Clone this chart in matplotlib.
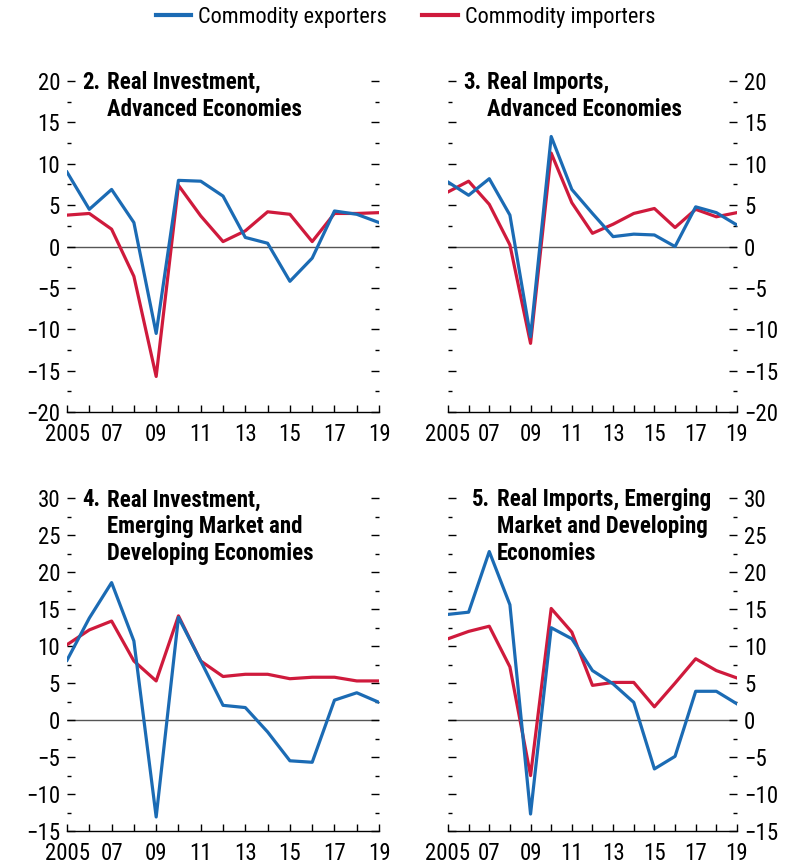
import matplotlib
matplotlib.use("Agg")
import matplotlib.pyplot as plt
from matplotlib.ticker import MultipleLocator, FixedLocator
from matplotlib.lines import Line2D
from matplotlib.transforms import offset_copy

plt.rcParams['font.family'] = ['Roboto Condensed', 'DejaVu Sans']

years = list(range(2005, 2020))
year_labels = ['2005', '07', '09', '11', '13', '15', '17', '19']

# panel 2: real investment, advanced economies
inv_ae_exp = [9.0, 4.5, 6.9, 2.9, -10.5, 8.0, 7.9, 6.1, 1.1, 0.4, -4.2, -1.4, 4.3, 3.9, 2.9]
inv_ae_imp = [3.8, 4.0, 2.1, -3.6, -15.7, 7.4, 3.7, 0.6, 1.9, 4.2, 3.9, 0.6, 4.0, 4.0, 4.1]
# panel 3: real imports, advanced economies
imp_ae_exp = [7.8, 6.2, 8.2, 3.8, -10.9, 13.3, 6.9, 4.0, 1.2, 1.5, 1.4, 0.0, 4.8, 4.1, 2.6]
imp_ae_imp = [6.6, 7.9, 5.1, 0.2, -11.7, 11.3, 5.3, 1.6, 2.7, 4.0, 4.6, 2.3, 4.5, 3.6, 4.1]
# panel 4: real investment, EMDEs
inv_em_exp = [8.1, 13.8, 18.6, 10.7, -13.1, 13.9, 8.0, 2.0, 1.7, -1.6, -5.5, -5.7, 2.7, 3.7, 2.4]
inv_em_imp = [10.2, 12.2, 13.4, 8.0, 5.3, 14.1, 8.0, 5.9, 6.2, 6.2, 5.6, 5.8, 5.8, 5.3, 5.3]
# panel 5: real imports, EMDEs
imp_em_exp = [14.3, 14.6, 22.8, 15.6, -12.7, 12.5, 11.0, 6.7, 4.9, 2.4, -6.6, -4.9, 3.9, 3.9, 2.2]
imp_em_imp = [11.0, 12.0, 12.7, 7.2, -7.5, 15.1, 11.9, 4.7, 5.1, 5.1, 1.8, 5.0, 8.3, 6.7, 5.7]

BLUE = '#1b6bb4'
RED = '#cf1a3c'

fig = plt.figure(figsize=(7.95, 8.68), dpi=100)

panels = [
    # rect, exporters, importers, ylim, number, title lines, labels on right, num x, body x
    ([0.0843, 0.5253, 0.3925, 0.3813], inv_ae_exp, inv_ae_imp, (-20, 20),
     '2.', ['Real Investment,', 'Advanced Economies'], False, 0.048, 0.128),
    ([0.5635, 0.5253, 0.3635, 0.3813], imp_ae_exp, imp_ae_imp, (-20, 20),
     '3.', ['Real Imports,', 'Advanced Economies'], True, 0.052, 0.135),
    ([0.0843, 0.0426, 0.3925, 0.3833], inv_em_exp, inv_em_imp, (-15, 30),
     '4.', ['Real Investment,', 'Emerging Market and', 'Developing Economies'], False, 0.048, 0.128),
    ([0.5635, 0.0426, 0.3635, 0.3833], imp_em_exp, imp_em_imp, (-15, 30),
     '5.', ['Real Imports, Emerging', 'Market and Developing', 'Economies'], True, 0.083, 0.170),
]

for rect, exp, imp, ylim, num, lines, right, xn, xb in panels:
    ax = fig.add_axes(rect)
    ax.axhline(0, color='#555555', lw=1.0, zorder=1)
    ax.plot(years, imp, color=RED, lw=2.3, zorder=2)
    ax.plot(years, exp, color=BLUE, lw=2.3, zorder=3)
    ax.set_xlim(2005, 2019)
    ax.set_ylim(*ylim)
    for s in ['top', 'left', 'right']:
        ax.spines[s].set_visible(False)
    ax.spines['bottom'].set_linewidth(1.0)

    ax.xaxis.set_major_locator(FixedLocator(years[::2]))
    ax.xaxis.set_minor_locator(FixedLocator(years[1::2]))
    ax.set_xticklabels(year_labels)
    ax.tick_params(axis='x', which='both', direction='in', length=5, width=1,
                   labelsize=16.5, pad=8)

    ax.yaxis.set_major_locator(MultipleLocator(5))
    ax.yaxis.set_minor_locator(MultipleLocator(2.5))
    ax.tick_params(axis='y', which='major', direction='in', length=6, width=1,
                   left=True, right=True, labelleft=not right, labelright=right,
                   labelsize=16.5, pad=5)
    ax.tick_params(axis='y', which='minor', direction='in', length=3, width=1,
                   left=True, right=True)

    # hanging-indent title, one text per line, 27 px apart
    for i, line in enumerate(lines):
        tr = offset_copy(ax.transAxes, fig=fig, x=0, y=-8 - 27 * i, units='dots')
        if i == 0:
            ax.text(xn, 1.0, num, transform=tr, ha='left', va='baseline',
                    fontsize=16.5, fontweight='bold')
        ax.text(xb, 1.0, line, transform=tr, ha='left', va='baseline',
                fontsize=16.5, fontweight='bold')

handles = [Line2D([], [], color=BLUE, lw=3), Line2D([], [], color=RED, lw=3)]
fig.legend(handles, ['Commodity exporters', 'Commodity importers'],
           loc='center', bbox_to_anchor=(0.51, 0.980), ncol=2, frameon=False,
           fontsize=16, handlelength=1.6, handletextpad=0.3, columnspacing=1.6)

fig.savefig('out.png', dpi=100)
